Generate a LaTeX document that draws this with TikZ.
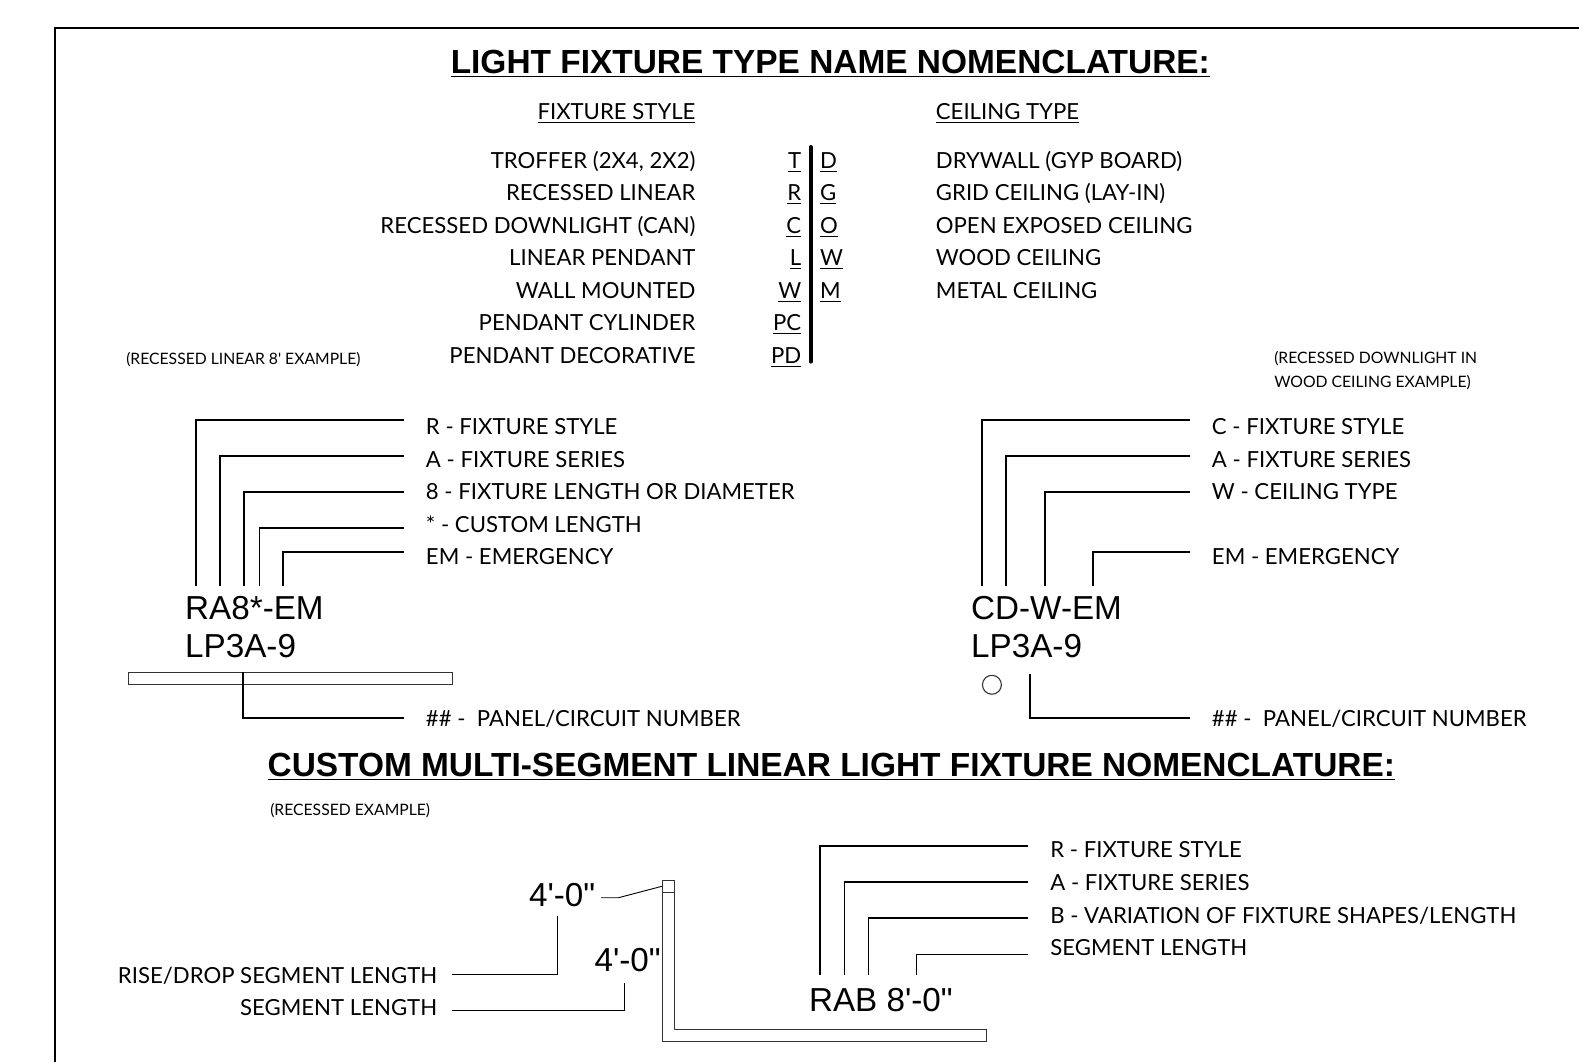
\documentclass[tikz,border=0pt]{standalone}
\usepackage{fontspec}
\newfontfamily\arialfont{Liberation Sans}
\newfontfamily\cadfont{Lato}
\usetikzlibrary{positioning}
\tikzset{
  sheet/.style={draw=black,line width=1pt},
  heading/.style={inner sep=0pt,font=\arialfont\bfseries\fontsize{16.6}{20}\selectfont},
  fxname/.style={inner sep=0pt,anchor=west,font=\arialfont\fontsize{16.5}{18}\selectfont},
  cad/.style={inner sep=0pt,outer ysep=0pt,text height=8pt,text depth=0pt,minimum height=16.15pt,font=\cadfont\fontsize{11}{14}\selectfont},
  note/.style={inner sep=0pt,anchor=west,align=left,font=\cadfont\fontsize{7.8}{11.6}\selectfont},
  rowl/.style={below=0pt of #1.south west,anchor=north west},
  rowr/.style={below=0pt of #1.south east,anchor=north east},
  tag/.style={cad,anchor=west,outer xsep=11pt},
  rtag/.style={cad,anchor=east,outer xsep=7.5pt},
  leader/.style={draw=black,line width=0.8pt},
  fixture/.style={draw=black!80,line width=0.55pt,inner sep=0pt},
}
\begin{document}
\begin{tikzpicture}[x=0.5pt,y=-0.5pt]
\useasboundingbox (0,0) rectangle (1568,1055);
\draw[sheet] (54.6,1055) |- (1568,27.8);

\node[heading] (title1) at (824.5,63.5) {\underline{LIGHT FIXTURE TYPE NAME NOMENCLATURE:}};
\node[heading] (title2) at (825.5,761.5) {\underline{CUSTOM MULTI-SEGMENT LINEAR LIGHT FIXTURE NOMENCLATURE:}};

% fixture style table
\node[cad,anchor=east] (stylehead) at (691,111) {\underline{FIXTURE STYLE}};
\node[cad,anchor=east] (fs1) at (691,159) {TROFFER (2X4, 2X2)};
\node[cad,rowr=fs1] (fs2) {RECESSED LINEAR};
\node[cad,rowr=fs2] (fs3) {RECESSED DOWNLIGHT (CAN)};
\node[cad,rowr=fs3] (fs4) {LINEAR PENDANT};
\node[cad,rowr=fs4] (fs5) {WALL MOUNTED};
\node[cad,rowr=fs5] (fs6) {PENDANT CYLINDER};
\node[cad,rowr=fs6] (fs7) {PENDANT DECORATIVE};
\node[cad,anchor=east] (sc1) at (796,159) {\underline{T}};
\node[cad,rowr=sc1] (sc2) {\underline{R}};
\node[cad,rowr=sc2] (sc3) {\underline{C}};
\node[cad,rowr=sc3] (sc4) {\underline{L}};
\node[cad,rowr=sc4] (sc5) {\underline{W}};
\node[cad,rowr=sc5] (sc6) {\underline{PC}};
\node[cad,rowr=sc6] (sc7) {\underline{PD}};

% ceiling type table
\node[cad,anchor=west] (ceilhead) at (929,111) {\underline{CEILING TYPE}};
\node[cad,anchor=west] (ct1) at (929,159) {DRYWALL (GYP BOARD)};
\node[cad,rowl=ct1] (ct2) {GRID CEILING (LAY-IN)};
\node[cad,rowl=ct2] (ct3) {OPEN EXPOSED CEILING};
\node[cad,rowl=ct3] (ct4) {WOOD CEILING};
\node[cad,rowl=ct4] (ct5) {METAL CEILING};
\node[cad,anchor=west] (cc1) at (814,159) {\underline{D}};
\node[cad,rowl=cc1] (cc2) {\underline{G}};
\node[cad,rowl=cc2] (cc3) {\underline{O}};
\node[cad,rowl=cc3] (cc4) {\underline{W}};
\node[cad,rowl=cc4] (cc5) {\underline{M}};
\coordinate (bartop) at (805,146);
\coordinate (barbot) at (805,359);
\draw[line width=2pt,line cap=round] (bartop) -- (barbot);

\node[note] (noteL) at (125,357) {(RECESSED LINEAR 8' EXAMPLE)};
\node[note] (noteR) at (1265,368) {(RECESSED DOWNLIGHT IN\\WOOD CEILING EXAMPLE)};
\node[note] (noteC) at (268,805) {(RECESSED EXAMPLE)};

% left example
\node[fxname] (nameL) at (183.5,604) {RA8*-EM};
\node[fxname] (ckL) at (183.5,642) {LP3A-9};
\node[tag] (aR) at (401,423.5) {R - FIXTURE STYLE};
\node[tag,rowl=aR] (aA) {A - FIXTURE SERIES};
\node[tag,rowl=aA] (aL) {8 - FIXTURE LENGTH OR DIAMETER};
\node[tag,rowl=aL] (aC) {* - CUSTOM LENGTH};
\node[tag,rowl=aC] (aE) {EM - EMERGENCY};
\node[tag] (aP) at (401,713) {\#\# -\ \ PANEL/CIRCUIT NUMBER};
\foreach \n/\x/\y in {aR/194.6/416.8,aA/218.5/452.8,aL/242.3/488.6,aC/257.5/524.3,aE/281/548.2}
  \draw[leader] (\n.west |- 0,\y) -| (\x,581.6);
\node[fixture,minimum width=160.75pt,minimum height=5.9pt] (barL) at (288.75,673.75) {};
\coordinate (barLpt) at (241.6,667.5);
\draw[leader] (aP.west) -| (barLpt);

% right example
\node[fxname] (nameR) at (964,604) {CD-W-EM};
\node[fxname] (ckR) at (964,642) {LP3A-9};
\node[tag] (bR) at (1181.5,423.5) {C - FIXTURE STYLE};
\node[tag,rowl=bR] (bA) {A - FIXTURE SERIES};
\node[tag,rowl=bA] (bW) {W - CEILING TYPE};
\node[tag,below=16.15pt of bW.south west,anchor=north west] (bE) {EM - EMERGENCY};
\node[tag] (bP) at (1181.5,713) {\#\# -\ \ PANEL/CIRCUIT NUMBER};
\foreach \n/\x/\y in {bR/975.2/416.8,bA/999/452.8,bW/1037.8/488.6,bE/1085.4/548.2}
  \draw[leader] (\n.west |- 0,\y) -| (\x,581.6);
\node[fixture,circle,minimum size=9.4pt] (canR) at (985,680) {};
\coordinate (canRpt) at (1023,669);
\draw[leader] (bP.west) -| (canRpt);

% custom segment example
\node[fxname] (nameC) at (803,993) {RAB 8'-0"};
\node[tag] (cR) at (1021,844) {R - FIXTURE STYLE};
\node[tag,rowl=cR] (cA) {A - FIXTURE SERIES};
\node[tag,rowl=cA] (cB) {B - VARIATION OF FIXTURE SHAPES/LENGTH};
\node[tag,rowl=cB] (cS) {SEGMENT LENGTH};
\foreach \n/\x/\y in {cR/814.3/839.8,cA/838.5/875.9,cB/862.3/911.6,cS/910/947.7}
  \draw[leader] (\n.west |- 0,\y) -| (\x,968.2);

\node[fxname] (rise) at (525,889) {4'-0"};
\node[fxname] (seg) at (590,953) {4'-0"};
\node[rtag] (rR) at (449,968.5) {RISE/DROP SEGMENT LENGTH};
\node[rtag,rowr=rR] (rS) {SEGMENT LENGTH};
\coordinate (risept) at (553.8,910);
\coordinate (segpt) at (620,976);
\draw[leader] (rR.east |- 0,967.6) -| (risept);
\draw[leader] (rS.east |- 0,1003.6) -| (segpt);

\node[fixture,minimum width=5.85pt,minimum height=6pt] (cap) at (664.15,880) {};
\coordinate (capin) at (cap.west);
\draw[fixture] (658.3,886) |- (979.4,1034.4) |- (670,1022) -- (670,886);
\coordinate (riseend) at (597,891.5);
\coordinate (risebend) at (614,891.5);
\draw[black,line width=0.45pt] (riseend) -- (risebend) -- (capin);
\end{tikzpicture}
\end{document}
